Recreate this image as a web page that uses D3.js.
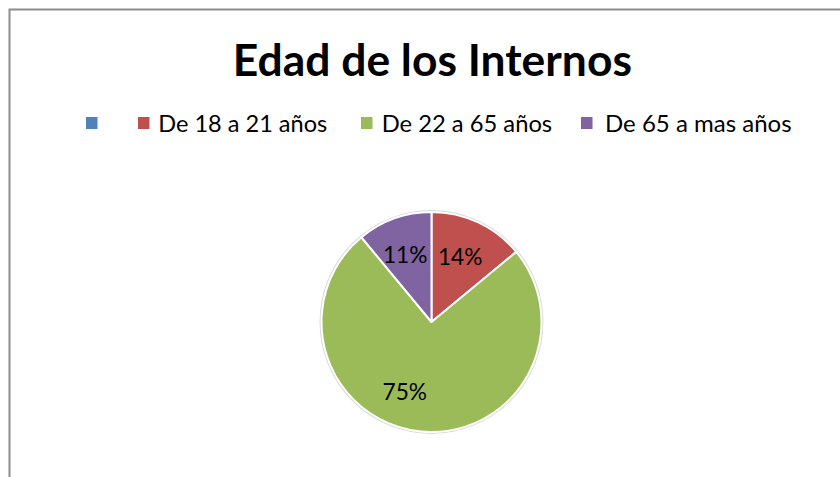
<!DOCTYPE html>
<html>
<head>
<meta charset="utf-8">
<script src="https://cdn.jsdelivr.net/npm/d3@7"></script>
<style>
  html, body { margin: 0; padding: 0; background: #fff; }
  svg { display: block; }
</style>
</head>
<body>
<script>
// ---- data ----
const title = "Edad de los Internos";
const categories = ["", "De 18 a 21 años", "De 22 a 65 años", "De 65 a mas años"];
const values = [0, 14, 75, 11];
const colors = ["#4F81BD", "#C0504D", "#9BBB59", "#8064A2"];

const W = 840, H = 477;
const FONT = "Lato, 'Open Sans', sans-serif";

const svg = d3.select("body").append("svg").attr("width", W).attr("height", H);

// chart border
svg.append("rect")
  .attr("x", 9.5).attr("y", 9.5).attr("width", W + 20).attr("height", H + 20)
  .attr("fill", "#fff").attr("stroke", "#8c8c8c").attr("stroke-width", 2);

// fit text to a target width
function fitText(sel, targetW, startSize) {
  sel.attr("font-size", startSize);
  const w = sel.node().getComputedTextLength();
  sel.attr("font-size", startSize * targetW / w);
  return sel;
}

// title
const t = svg.append("text")
  .attr("x", (232.7 + 632) / 2).attr("y", 75.7)
  .attr("text-anchor", "middle")
  .attr("font-family", FONT).attr("font-weight", "bold")
  .attr("fill", "#000")
  .text(title);
fitText(t, 632 - 232.7, 40);

// legend
const legendSquares = [86, 138, 361, 581];
const legendText = [[null, null], [158.3, 327.3], [381.7, 552.3], [605, 791.7]];
const leg = svg.append("g");
categories.forEach((c, i) => {
  leg.append("rect")
    .attr("x", legendSquares[i]).attr("y", 117)
    .attr("width", 11.5).attr("height", 12)
    .attr("fill", colors[i]);
  if (c) {
    const tx = leg.append("text")
      .attr("x", legendText[i][0]).attr("y", 132.3)
      .attr("font-family", FONT).attr("fill", "#000")
      .text(c);
    fitText(tx, legendText[i][1] - legendText[i][0], 20);
  }
});

// pie
const cx = 431.5, cy = 322, R = 110;
const g = svg.append("g").attr("transform", `translate(${cx},${cy})`);

g.append("circle").attr("r", R + 1.2)
  .attr("fill", "none").attr("stroke", "#d9d9d9").attr("stroke-width", 1.5);

const pie = d3.pie().sort(null).value(d => d)(values);
const arc = d3.arc().innerRadius(0).outerRadius(R);
const labelArc = d3.arc().innerRadius(72).outerRadius(72);
// Excel "best fit" label nudges (layout only)
const labelNudge = [[0, 0], [-2, 0], [-20, -2], [-2, 0]];

g.selectAll("path.slice").data(pie).join("path")
  .attr("class", "slice")
  .attr("d", arc)
  .attr("fill", (d, i) => colors[i])
  .attr("stroke", "#fff").attr("stroke-width", 2)
  .attr("stroke-linejoin", "round");

const total = d3.sum(values);
pie.forEach((d, i) => {
  if (d.data <= 0) return;
  const [lx, ly] = labelArc.centroid(d);
  const tx = g.append("text")
    .attr("x", lx + labelNudge[i][0]).attr("y", ly + 8.5 + labelNudge[i][1])
    .attr("text-anchor", "middle")
    .attr("font-family", FONT).attr("fill", "#000")
    .text(Math.round(d.data / total * 100) + "%");
  fitText(tx, 44.5, 22);
});
</script>
</body>
</html>
